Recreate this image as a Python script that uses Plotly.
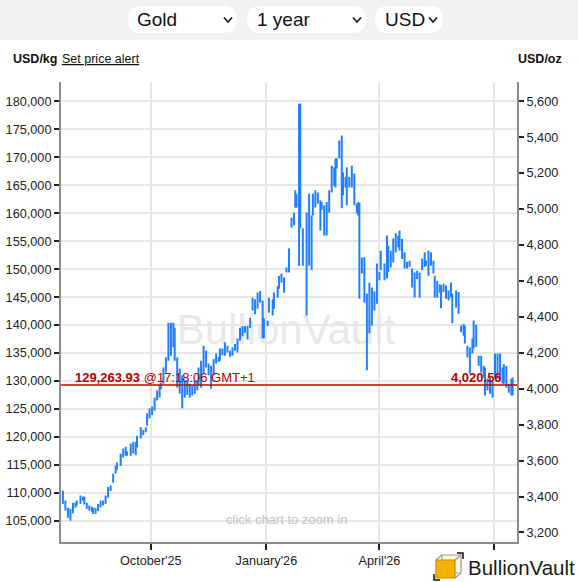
import plotly.graph_objects as go

# daily high / low of gold in USD per kg
dates = [
    "2025-07-23", "2025-07-25", "2025-07-27", "2025-07-29", "2025-07-31", "2025-08-02", "2025-08-03", "2025-08-06",
    "2025-08-08", "2025-08-09", "2025-08-11", "2025-08-13", "2025-08-15", "2025-08-16", "2025-08-18", "2025-08-20",
    "2025-08-22", "2025-08-24", "2025-08-26", "2025-08-28", "2025-08-30", "2025-09-01", "2025-09-03", "2025-09-04",
    "2025-09-07", "2025-09-09", "2025-09-11", "2025-09-12", "2025-09-15", "2025-09-17", "2025-09-19", "2025-09-20",
    "2025-09-23", "2025-09-25", "2025-09-27", "2025-09-28", "2025-09-30", "2025-10-02", "2025-10-04", "2025-10-06",
    "2025-10-08", "2025-10-09", "2025-10-11", "2025-10-13", "2025-10-15", "2025-10-17", "2025-10-19", "2025-10-20",
    "2025-10-22", "2025-10-24", "2025-10-26", "2025-10-28", "2025-10-30", "2025-11-01", "2025-11-03", "2025-11-05",
    "2025-11-07", "2025-11-08", "2025-11-10", "2025-11-12", "2025-11-14", "2025-11-16", "2025-11-18", "2025-11-20",
    "2025-11-22", "2025-11-24", "2025-11-25", "2025-11-27", "2025-11-29", "2025-12-01", "2025-12-03", "2025-12-05",
    "2025-12-07", "2025-12-09", "2025-12-11", "2025-12-13", "2025-12-15", "2025-12-17", "2025-12-19", "2025-12-21",
    "2025-12-23", "2025-12-25", "2025-12-27", "2025-12-29", "2025-12-30", "2026-01-02", "2026-01-03", "2026-01-06",
    "2026-01-07", "2026-01-10", "2026-01-11", "2026-01-13", "2026-01-15", "2026-01-17", "2026-01-19", "2026-01-21",
    "2026-01-23", "2026-01-24", "2026-01-25", "2026-01-27", "2026-01-28", "2026-01-30", "2026-02-02", "2026-02-04",
    "2026-02-06", "2026-02-07", "2026-02-09", "2026-02-11", "2026-02-13", "2026-02-14", "2026-02-16", "2026-02-18",
    "2026-02-20", "2026-02-22", "2026-02-24", "2026-02-25", "2026-02-26", "2026-02-28", "2026-03-02", "2026-03-03",
    "2026-03-05", "2026-03-06", "2026-03-08", "2026-03-10", "2026-03-12", "2026-03-14", "2026-03-15", "2026-03-16",
    "2026-03-18", "2026-03-20", "2026-03-22", "2026-03-24", "2026-03-26", "2026-03-28", "2026-03-30", "2026-04-01",
    "2026-04-02", "2026-04-05", "2026-04-07", "2026-04-08", "2026-04-10", "2026-04-12", "2026-04-14", "2026-04-16",
    "2026-04-17", "2026-04-19", "2026-04-21", "2026-04-23", "2026-04-25", "2026-04-27", "2026-04-29", "2026-05-01",
    "2026-05-03", "2026-05-05", "2026-05-07", "2026-05-08", "2026-05-10", "2026-05-12", "2026-05-14", "2026-05-15",
    "2026-05-17", "2026-05-19", "2026-05-20", "2026-05-22", "2026-05-24", "2026-05-26", "2026-05-28", "2026-05-29",
    "2026-06-01", "2026-06-03", "2026-06-05", "2026-06-07", "2026-06-08", "2026-06-10", "2026-06-12", "2026-06-14",
    "2026-06-15", "2026-06-17", "2026-06-19", "2026-06-21", "2026-06-23", "2026-06-24", "2026-06-26", "2026-06-28",
    "2026-06-30", "2026-07-02", "2026-07-04", "2026-07-06", "2026-07-08", "2026-07-09", "2026-07-11", "2026-07-13",
    "2026-07-15", "2026-07-16",
]
high_kg = [
    110400, 108600, 107300, 107100, 108200, 108200, 108600, 109500, 109300, 109300, 108200, 107700, 107500, 107300,
    107300, 108000, 108600, 108600, 109500, 111000, 111300, 113400, 114800, 115400, 117000, 117900, 118200, 117400,
    118800, 119100, 119100, 120200, 121700, 121200, 121700, 124200, 125100, 125400, 127000, 128300, 129200, 129700,
    132400, 134200, 140400, 140400, 140400, 139500, 134200, 132200, 131000, 130100, 130100, 129500, 129200, 130100,
    130100, 132400, 133600, 136300, 135400, 133100, 132700, 133900, 134900, 134300, 135800, 135800, 136900, 136300,
    135400, 136000, 136600, 137600, 139500, 139800, 139800, 139800, 141300, 144900, 144600, 145800, 146100, 144400,
    141200, 140800, 144900, 144600, 145800, 147000, 148800, 149200, 148500, 150300, 153700, 159200, 160100, 164100,
    163400, 179600, 179600, 157300, 160100, 163500, 159600, 163500, 164100, 163700, 162300, 162000, 161400, 162000,
    164100, 168500, 168200, 169800, 169800, 173000, 173900, 167300, 166500, 168200, 166500, 168500, 167100, 161700,
    162000, 161900, 152100, 152100, 145600, 147600, 146700, 146000, 151000, 149500, 153300, 151000, 156000, 154200,
    153300, 155500, 156400, 156000, 156900, 155400, 153000, 151300, 151500, 150100, 149400, 149700, 149400, 151900,
    153000, 151500, 153300, 153000, 151500, 148800, 147900, 147300, 147100, 147400, 147100, 146200, 147600, 145600,
    146200, 145900, 139900, 140200, 139900, 136300, 136000, 137600, 140800, 140000, 134500, 134500, 132700, 132400,
    130400, 130600, 130100, 134900, 134900, 134900, 132400, 133000, 132700, 129500, 130400, 130600,
]
low_kg = [
    108000, 106800, 105500, 105000, 106300, 107300, 107700, 108000, 108600, 107900, 107100, 106800, 106600, 106200,
    106200, 106700, 107400, 107700, 108000, 109100, 110300, 111800, 113400, 114100, 114800, 116300, 116600, 116600,
    116600, 117000, 116700, 118100, 119700, 120300, 120800, 122000, 123300, 123900, 124700, 126500, 127000, 128500,
    129500, 131500, 133600, 134500, 136000, 133600, 128800, 127700, 125100, 127000, 127500, 127000, 127400, 127700,
    128300, 129200, 128800, 131300, 132400, 131000, 128600, 131000, 133100, 133400, 133600, 134600, 134500, 135100,
    134300, 134500, 135400, 135100, 137200, 138000, 138600, 137400, 139500, 142600, 141900, 142900, 144000, 137600,
    137600, 139800, 142200, 141700, 142900, 144900, 146500, 147600, 145800, 149400, 149400, 157400, 157800, 161000,
    161000, 150600, 157300, 150600, 141700, 150600, 149800, 159600, 161000, 161700, 156900, 160600, 156000, 156000,
    160100, 163700, 164900, 164600, 168000, 169800, 160900, 163200, 164600, 161400, 164600, 164600, 161400, 160000,
    159600, 144700, 149200, 144000, 131900, 138500, 139900, 142600, 143800, 148000, 149800, 148000, 148300, 149500,
    150300, 151200, 153000, 153900, 153300, 151800, 150100, 150100, 150400, 146700, 144900, 148200, 144900, 149800,
    150400, 150600, 148800, 150600, 149200, 144900, 144900, 145800, 143000, 145900, 144700, 144400, 144900, 140300,
    143100, 142000, 138700, 138100, 136700, 134200, 131300, 134900, 135800, 136100, 132700, 131500, 130600, 127400,
    128300, 127700, 127000, 130600, 130400, 130100, 129500, 129500, 128800, 127900, 127400, 127400,
]

last_price_kg = 129263.93
last_price_oz = 4020.56
last_time = "17:18:06 GMT+1"

KG_TO_OZ = 32.1507466

x_range = ["2025-07-21 12:00", "2026-07-19 12:00"]
y_range_kg = [101180, 183470]
tick_dates = ["2025-10-01", "2026-01-01", "2026-04-01", "2026-07-01"]
tick_labels = ["October'25", "January'26", "April'26", "July'26"]
kg_ticks = list(range(105000, 180001, 5000))
oz_ticks = list(range(3200, 5601, 200))

W, H = 578, 582
ML, MR, MT, MB = 61, 61, 82, 40
FONT = "Liberation Sans, Arial, sans-serif"


def px(x):
    """pixel x -> paper x"""
    return (x - ML) / (W - ML - MR)


def py(y):
    """pixel y (from top) -> paper y"""
    return (H - MB - y) / (H - MT - MB)


def pill(x0, y0, x1, y1, r):
    """rounded box path in paper coords"""
    return (
        f"M{px(x0 + r)},{py(y0)} L{px(x1 - r)},{py(y0)} Q{px(x1)},{py(y0)} {px(x1)},{py(y0 + r)} "
        f"L{px(x1)},{py(y1 - r)} Q{px(x1)},{py(y1)} {px(x1 - r)},{py(y1)} "
        f"L{px(x0 + r)},{py(y1)} Q{px(x0)},{py(y1)} {px(x0)},{py(y1 - r)} "
        f"L{px(x0)},{py(y0 + r)} Q{px(x0)},{py(y0)} {px(x0 + r)},{py(y0)} Z"
    )


def chevron(x, y):
    return f"M{px(x)},{py(y)} L{px(x + 4)},{py(y + 4.5)} L{px(x + 8)},{py(y)}"


fig = go.Figure()

# high-low bars as vertical segments
bx, by = [], []
for d, hi, lo in zip(dates, high_kg, low_kg):
    bx += [d, d, None]
    by += [lo, hi, None]

fig.add_trace(
    go.Scatter(
        x=bx, y=by, mode="lines",
        line=dict(color="#1f7fff", width=2),
        hoverinfo="skip", showlegend=False,
    )
)
# keeps the oz axis alive
fig.add_trace(
    go.Scatter(
        x=[dates[-1]], y=[last_price_oz], yaxis="y2", mode="markers",
        marker=dict(opacity=0), hoverinfo="skip", showlegend=False,
    )
)

shapes = [
    # header band
    dict(type="rect", xref="paper", yref="paper", x0=px(0), x1=px(W), y0=py(0), y1=py(40),
         fillcolor="#f2f2f2", line_width=0, layer="below"),
    dict(type="path", xref="paper", yref="paper", path=pill(128, 6, 237, 33, 13.5),
         fillcolor="white", line_width=0, layer="below"),
    dict(type="path", xref="paper", yref="paper", path=pill(247, 6, 366, 33, 13.5),
         fillcolor="white", line_width=0, layer="below"),
    dict(type="path", xref="paper", yref="paper", path=pill(375, 6, 443, 33, 13.5),
         fillcolor="white", line_width=0, layer="below"),
    dict(type="path", xref="paper", yref="paper", path=chevron(224, 17.5), line=dict(color="#222", width=1.8)),
    dict(type="path", xref="paper", yref="paper", path=chevron(353, 17.5), line=dict(color="#222", width=1.8)),
    dict(type="path", xref="paper", yref="paper", path=chevron(429, 17.5), line=dict(color="#222", width=1.8)),
    # watermark
    dict(type="rect", xref="paper", yref="paper", x0=px(175), x1=px(397), y0=py(345), y1=py(305),
         line_width=0, fillcolor="rgba(0,0,0,0)", layer="below",
         label=dict(text="BullionVault", font=dict(size=42, color="#e8e8e8", family=FONT),
                    textposition="middle center")),
    # last price line
    dict(type="line", xref="paper", yref="y", x0=0, x1=1, y0=last_price_kg, y1=last_price_kg,
         line=dict(color="#cc0000", width=1.5)),
    # logo box
    dict(type="rect", xref="paper", yref="paper", x0=px(428), x1=px(W), y0=py(553), y1=py(H),
         fillcolor="white", line_width=0, layer="above"),
    dict(type="rect", xref="paper", yref="paper", x0=px(442), x1=px(461), y0=py(555), y1=py(573),
         fillcolor="#fff6dc", line=dict(color="#9a9a9a", width=1.2), layer="above"),
    dict(type="path", xref="paper", yref="paper",
         path=f"M{px(436)},{py(560)} L{px(442)},{py(555)} M{px(455)},{py(560)} L{px(461)},{py(555)} "
              f"M{px(455)},{py(578)} L{px(461)},{py(573)}",
         line=dict(color="#9a9a9a", width=1.2), layer="above"),
    dict(type="rect", xref="paper", yref="paper", x0=px(436), x1=px(455), y0=py(560), y1=py(578),
         fillcolor="#f7b200", line=dict(color="#c98a00", width=1.2), layer="above"),
    dict(type="path", xref="paper", yref="paper",
         path=f"M{px(434)},{py(574)} L{px(434)},{py(580)} L{px(440)},{py(580)} "
              f"M{px(457)},{py(553)} L{px(463)},{py(553)} L{px(463)},{py(559)}",
         line=dict(color="#111", width=1.5), layer="above"),
]

annotations = [
    dict(text="Gold", x=px(135), y=py(20), xanchor="left", yanchor="middle",
         font=dict(size=19, color="#111")),
    dict(text="1 year", x=px(255), y=py(20), xanchor="left", yanchor="middle",
         font=dict(size=19, color="#111")),
    dict(text="USD", x=px(383), y=py(20), xanchor="left", yanchor="middle",
         font=dict(size=19, color="#111")),
    dict(text="<b>USD/kg</b>", x=px(11), y=py(59), xanchor="left", yanchor="middle",
         font=dict(size=12.5, color="#111")),
    dict(text="Set price alert", x=px(60), y=py(59), xanchor="left", yanchor="middle",
         font=dict(size=12.5, color="#111", lineposition="under")),
    dict(text="<b>USD/oz</b>", x=px(564), y=py(59), xanchor="right", yanchor="middle",
         font=dict(size=12.5, color="#111")),
    dict(text="click chart to zoom in", x=px(286), y=py(519), xanchor="center", yanchor="middle",
         font=dict(size=13, color="#c4c4c4")),
    dict(text=f"<b>{last_price_kg:,.2f}</b> @{last_time}", x=px(73), y=last_price_kg, yref="y",
         xanchor="left", yanchor="middle", yshift=8, font=dict(size=13, color="#b80000")),
    dict(text=f"<b>{last_price_oz:,.2f}</b>", x=px(504), y=last_price_kg, yref="y",
         xanchor="right", yanchor="middle", yshift=8, font=dict(size=13, color="#b80000")),
    dict(text="BullionVault", x=px(466), y=py(567), xanchor="left", yanchor="middle",
         font=dict(size=20.5, color="#1a1a1a")),
]
for a in annotations:
    a.setdefault("xref", "paper")
    a.setdefault("yref", "paper")
    a["showarrow"] = False

axis_style = dict(
    showline=True, linecolor="#8c8c8c", linewidth=2,
    ticks="outside", tickcolor="#222", tickwidth=2,
    tickfont=dict(size=12.7, color="#222"),
    zeroline=False, fixedrange=True, automargin=False,
)

fig.update_layout(
    width=W, height=H,
    margin=dict(l=ML, r=MR, t=MT, b=MB, pad=0),
    paper_bgcolor="white",
    plot_bgcolor="rgba(0,0,0,0)",
    font=dict(family=FONT),
    showlegend=False,
    hovermode=False,
    xaxis=dict(
        type="date", range=x_range, tickvals=tick_dates, ticktext=tick_labels, ticklen=6,
        showgrid=True, gridcolor="#e6e6e6", gridwidth=1.5, **axis_style,
    ),
    yaxis=dict(
        range=y_range_kg, tickvals=kg_ticks, tickformat=",d", ticklen=5,
        showgrid=True, gridcolor="#e6e6e6", gridwidth=1.5, **axis_style,
    ),
    yaxis2=dict(
        overlaying="y", side="right", range=[v / KG_TO_OZ for v in y_range_kg],
        tickvals=oz_ticks, tickformat=",d", ticklen=5, showgrid=False, **axis_style,
    ),
    shapes=shapes,
    annotations=annotations,
)

# page margin off so the figure sits at the window's corner
fig.write_html(
    "out.html",
    config={"displayModeBar": False},
    post_script="document.body.style.margin='0';document.body.style.overflow='hidden';",
)
